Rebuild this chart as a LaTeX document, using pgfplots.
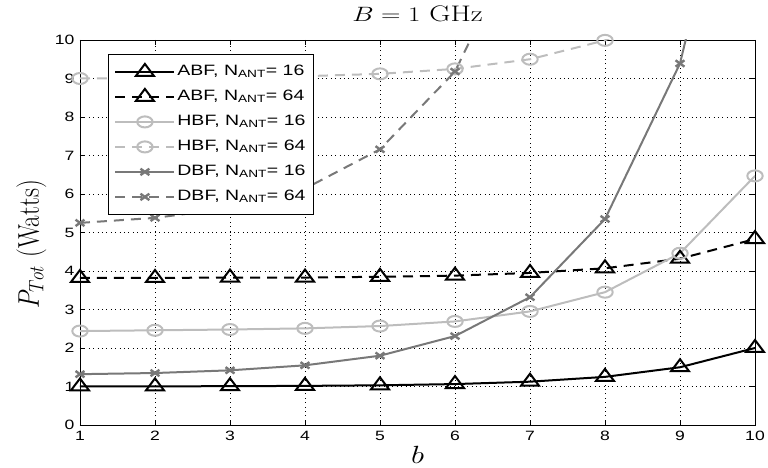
\documentclass[border=0pt]{standalone}
\usepackage{fontspec}
\usepackage{graphicx}
\usepackage{pgfplots}
\pgfplotsset{compat=1.18}
\newfontfamily\hel[FakeStretch=1.3]{Liberation Sans}
\definecolor{lgray}{gray}{0.74}
\definecolor{mgray}{gray}{0.47}
\begin{document}
\begin{tikzpicture}
\useasboundingbox (-80pt,-43pt) rectangle (688pt,425pt);
\begin{axis}[
  at={(0pt,0pt)}, anchor=south west,
  scale only axis, width=675pt, height=385pt,
  xmin=1, xmax=10, ymin=0, ymax=10,
  xtick={1,2,...,10}, ytick={0,1,...,10},
  tick align=inside, tick pos=both, major tick length=5pt,
  grid=major,
  major grid style={black, line width=0.55pt, dash pattern=on 0.8pt off 3.6pt},
  axis line style={line width=0.9pt},
  every tick/.style={black, line width=0.6pt},
  /pgf/number format/assume math mode=true,
  ticklabel style={font=\fontsize{13.5}{14}\selectfont\hel},
  xticklabel style={yshift=-3pt},
  yticklabel style={xshift=-2pt},
  title={\scalebox{1.3}[1]{$B = 1$ GHz}},
  title style={font=\fontsize{22.5}{24}\selectfont, at={(0.5,1)}, anchor=base, yshift=12pt},
  xlabel={\scalebox{1.25}[1]{$b$}},
  xlabel style={font=\fontsize{24}{24}\selectfont, at={(axis description cs:0.5,0)}, anchor=base, yshift=-38pt},
  ylabel={\scalebox{1}[1.2]{$P_{Tot}$ (Watts)}},
  ylabel style={font=\fontsize{25}{25}\selectfont, at={(axis description cs:-0.072,0.47)}, anchor=center},
  legend cell align=left,
  legend image code/.code={\draw[mark repeat=2,mark phase=2] plot coordinates {(0pt,0pt) (29.5pt,0pt) (59pt,0pt)};},
  legend style={at={(0.0415,0.9636)}, anchor=north west, draw=black, line width=0.8pt, fill=white,
    font=\fontsize{15}{15}\selectfont\hel, inner xsep=6pt, inner ysep=8pt, row sep=6pt,
    nodes={inner sep=2pt, text height=11pt, text depth=4pt}},
]
\addplot[black, line width=2pt, mark=triangle, mark size=8pt, mark options={solid, xscale=1.3}]
  coordinates {(1,1.002)(2,1.004)(3,1.008)(4,1.016)(5,1.031)(6,1.063)(7,1.125)(8,1.25)(9,1.5)(10,2.0)};
\addlegendentry{ABF, N\textsubscript{ANT}= 16}
\addplot[black, line width=2pt, dash pattern=on 10pt off 7pt, mark=triangle, mark size=8pt, mark options={solid, xscale=1.3}]
  coordinates {(1,3.82)(2,3.82)(3,3.83)(4,3.83)(5,3.85)(6,3.88)(7,3.95)(8,4.07)(9,4.32)(10,4.83)};
\addlegendentry{ABF, N\textsubscript{ANT}= 64}
\addplot[lgray, line width=2pt, mark=o, mark size=5.5pt, mark options={solid, xscale=1.4}]
  coordinates {(1,2.44)(2,2.46)(3,2.48)(4,2.51)(5,2.57)(6,2.69)(7,2.95)(8,3.45)(9,4.46)(10,6.47)};
\addlegendentry{HBF, N\textsubscript{ANT}= 16}
\addplot[lgray, line width=2pt, dash pattern=on 10pt off 7pt, mark=o, mark size=5.5pt, mark options={solid, xscale=1.4}]
  coordinates {(1,9.0)(2,9.01)(3,9.03)(4,9.06)(5,9.12)(6,9.25)(7,9.5)(8,9.99)(9,11.0)(10,13.0)};
\addlegendentry{HBF, N\textsubscript{ANT}= 64}
\addplot[mgray, line width=2pt, mark=x, mark size=4.5pt, mark options={solid, xscale=1.4, line width=2.4pt}]
  coordinates {(1,1.32)(2,1.35)(3,1.42)(4,1.55)(5,1.80)(6,2.31)(7,3.32)(8,5.35)(9,9.39)(10,17.5)};
\addlegendentry{DBF, N\textsubscript{ANT}= 16}
\addplot[mgray, line width=2pt, dash pattern=on 10pt off 7pt, mark=x, mark size=4.5pt, mark options={solid, xscale=1.4, line width=2.4pt}]
  coordinates {(1,5.25)(2,5.38)(3,5.63)(4,6.14)(5,7.16)(6,9.18)(7,13.2)(8,21.3)(9,37.5)(10,69.8)};
\addlegendentry{DBF, N\textsubscript{ANT}= 64}
\end{axis}
\end{tikzpicture}
\end{document}
